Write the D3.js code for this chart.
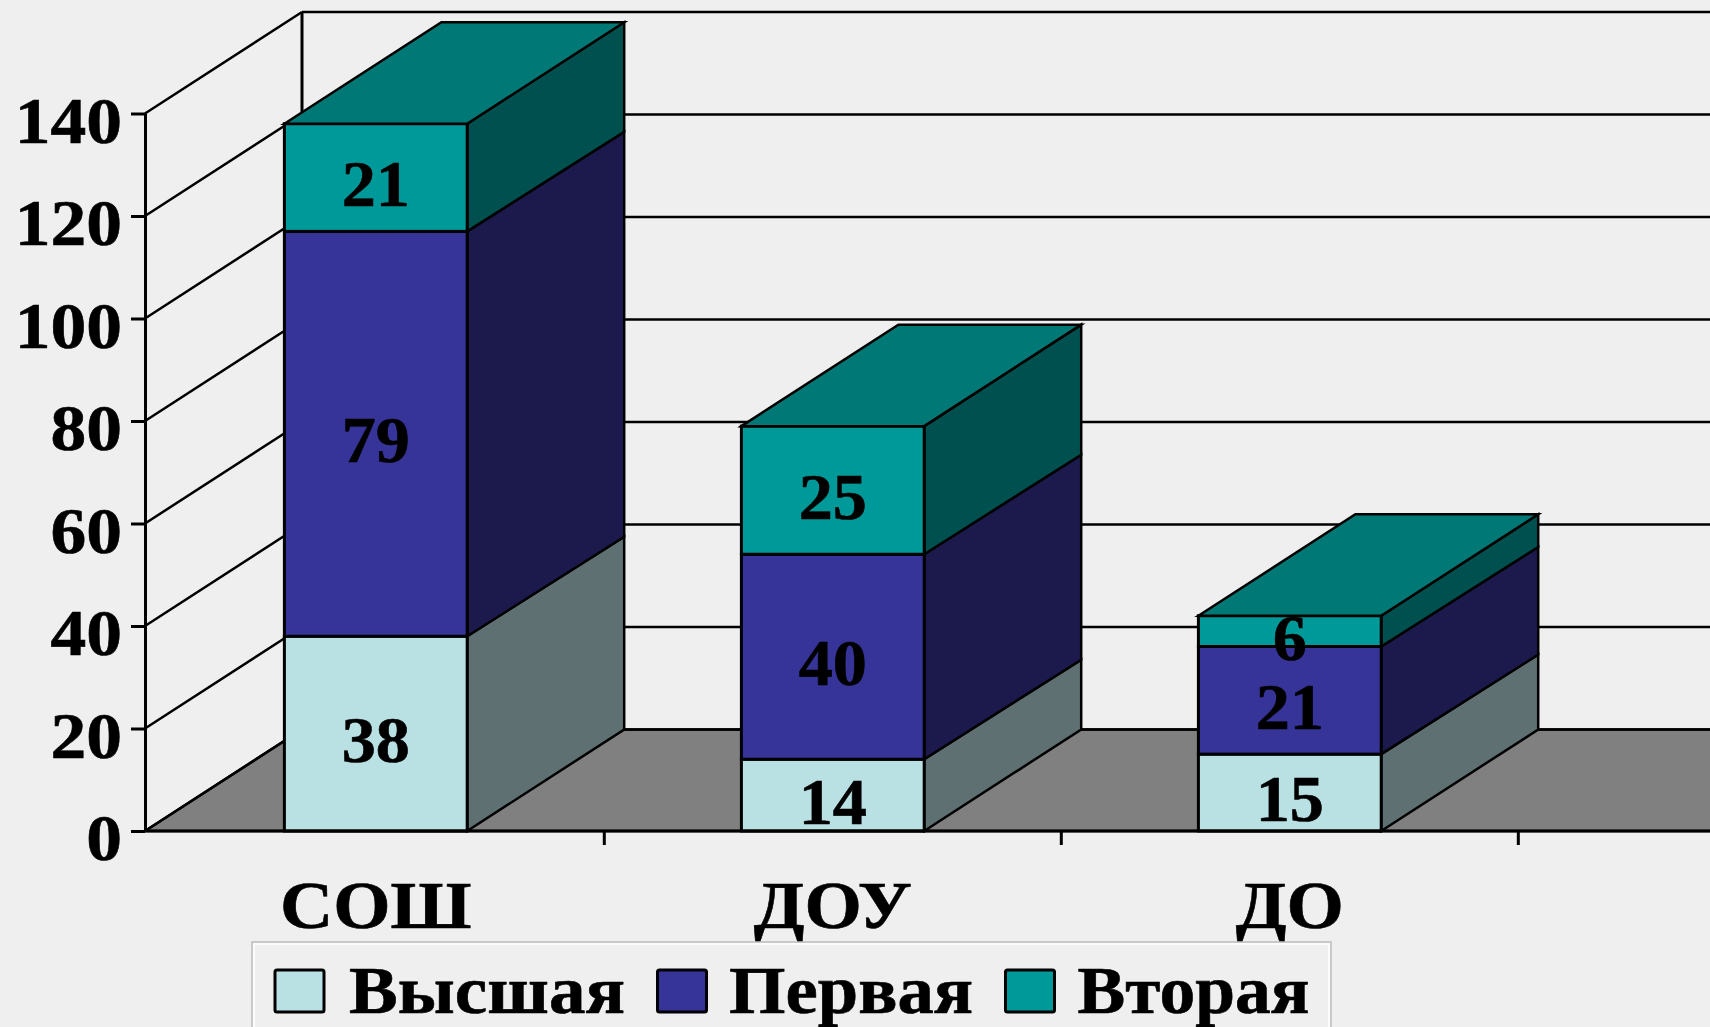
<!DOCTYPE html>
<html>
<head>
<meta charset="utf-8">
<script src="https://cdn.jsdelivr.net/npm/d3@7"></script>
<style>
  html, body { margin: 0; padding: 0; background: #efefef; overflow: hidden; }
  svg { display: block; filter: blur(0.5px); }
  text { font-family: "Liberation Serif", serif; font-weight: bold; fill: #000; stroke: #000; stroke-width: 0.6px; }
</style>
</head>
<body>
<svg width="1710" height="1027"></svg>
<script>
var categories = ["СОШ", "ДОУ", "ДО"];
var seriesNames = ["Высшая", "Первая", "Вторая"];
var vysshaya = [38, 14, 15];
var pervaya = [79, 40, 21];
var vtoraya = [21, 25, 6];
var yTicks = [0, 20, 40, 60, 80, 100, 120, 140];

var frontColors = ["#b9e0e3", "#363399", "#009999"];
var sideColors = ["#5f7072", "#1c1a4d", "#005050"];
var topColor = "#007875";

// offset of the back wall from the front plane
var depthX = 157, depthY = -101.5;
// the inner seams on the bar sides run a little flatter than the top edge
var seamY = -99.5;

var svg = d3.select("svg");

var x = d3.scaleBand()
  .domain(categories)
  .range([145, 1520.6])
  .paddingInner(0.6)
  .paddingOuter(0.305);

var y = d3.scaleLinear()
  .domain([0, 140])
  .range([831, 113.5]);

var axisLeftX = x.range()[0], rightEdge = 1710;

function poly(points) {
  return points.map(function(p) { return p.join(","); }).join(" ");
}

// floor
svg.append("polygon")
  .attr("points", poly([
    [axisLeftX, y(0)],
    [axisLeftX + depthX, y(0) + depthY],
    [rightEdge + 5, y(0) + depthY],
    [rightEdge + 5, y(0)]
  ]))
  .attr("fill", "#808080")
  .attr("stroke", "#000")
  .attr("stroke-width", 2.5);

// back wall lines
svg.selectAll("line.grid")
  .data(yTicks)
  .enter()
  .append("line")
  .attr("class", "grid")
  .attr("x1", axisLeftX + depthX)
  .attr("x2", rightEdge)
  .attr("y1", function(d) { return y(d) + depthY; })
  .attr("y2", function(d) { return y(d) + depthY; })
  .attr("stroke", "#000")
  .attr("stroke-width", 2.5);

// side wall lines
svg.selectAll("line.diag")
  .data(yTicks)
  .enter()
  .append("line")
  .attr("class", "diag")
  .attr("x1", axisLeftX)
  .attr("x2", axisLeftX + depthX)
  .attr("y1", function(d) { return y(d); })
  .attr("y2", function(d) { return y(d) + depthY; })
  .attr("stroke", "#000")
  .attr("stroke-width", 2.5);

svg.append("line")
  .attr("x1", axisLeftX + depthX)
  .attr("x2", axisLeftX + depthX)
  .attr("y1", y(140) + depthY)
  .attr("y2", y(0) + depthY)
  .attr("stroke", "#000")
  .attr("stroke-width", 3);

// stacked boxes
var stack = d3.stack().keys([0, 1, 2]).value(function(d, k) { return d[k]; });
var rows = categories.map(function(c, i) { return [vysshaya[i], pervaya[i], vtoraya[i]]; });
var layers = stack(rows);

var labels = [];
categories.forEach(function(cat, i) {
  var x0 = x(cat), x1 = x(cat) + x.bandwidth();
  var g = svg.append("g").attr("class", "box");
  layers.forEach(function(layer, k) {
    var v0 = layer[i][0], v1 = layer[i][1];
    var backLow = k == 0 ? depthY : seamY;
    var backHigh = k == 2 ? depthY : seamY;
    g.append("polygon")
      .attr("points", poly([
        [x1, y(v0)], [x1 + depthX, y(v0) + backLow],
        [x1 + depthX, y(v1) + backHigh], [x1, y(v1)]
      ]))
      .attr("fill", sideColors[k])
      .attr("stroke", "#000")
      .attr("stroke-width", 2.5);
    g.append("rect")
      .attr("x", x0)
      .attr("y", y(v1))
      .attr("width", x.bandwidth())
      .attr("height", y(v0) - y(v1))
      .attr("fill", frontColors[k])
      .attr("stroke", "#000")
      .attr("stroke-width", 3);
    labels.push({ cx: (x0 + x1) / 2, cy: y((v0 + v1) / 2), text: rows[i][k] });
  });
  var top = layers[2][i][1];
  g.append("polygon")
    .attr("points", poly([
      [x0, y(top)], [x0 + depthX, y(top) + depthY],
      [x1 + depthX, y(top) + depthY], [x1, y(top)]
    ]))
    .attr("fill", topColor)
    .attr("stroke", "#000")
    .attr("stroke-width", 2.5);
});

// value labels
svg.selectAll("text.val")
  .data(labels)
  .enter()
  .append("text")
  .attr("class", "val")
  .attr("text-anchor", "middle")
  .attr("font-size", 65)
  .attr("transform", function(d) {
    return "translate(" + d.cx + "," + (d.cy + 28.5) + ") scale(1.05,1)";
  })
  .text(function(d) { return d.text; });

// y axis
var yAxis = d3.axisLeft(y).tickValues(yTicks).tickSize(14).tickSizeOuter(0);
var yG = svg.append("g")
  .attr("transform", "translate(" + axisLeftX + ",0)")
  .call(yAxis);
yG.selectAll("path, line").attr("stroke", "#000").attr("stroke-width", 3);
yG.selectAll("text")
  .attr("x", 0)
  .attr("y", 0)
  .attr("dy", null)
  .attr("fill", "#000")
  .attr("font-family", null)
  .attr("font-size", 65)
  .attr("transform", "translate(-23,28.5) scale(1.1,1)");

// baseline and category ticks
svg.append("line")
  .attr("x1", axisLeftX)
  .attr("x2", rightEdge)
  .attr("y1", y(0))
  .attr("y2", y(0))
  .attr("stroke", "#000")
  .attr("stroke-width", 3);

svg.selectAll("line.cat")
  .data(categories)
  .enter()
  .append("line")
  .attr("class", "cat")
  .attr("x1", function(d) { return x(d) + x.bandwidth() + x.step() * 0.3; })
  .attr("x2", function(d) { return x(d) + x.bandwidth() + x.step() * 0.3; })
  .attr("y1", y(0))
  .attr("y2", y(0) + 14)
  .attr("stroke", "#000")
  .attr("stroke-width", 3);

svg.selectAll("text.cat")
  .data(categories)
  .enter()
  .append("text")
  .attr("class", "cat")
  .attr("text-anchor", "middle")
  .attr("font-size", 67)
  .attr("transform", function(d) {
    return "translate(" + (x(d) + x.bandwidth() / 2) + ",928) scale(1.1,1)";
  })
  .text(function(d) { return d; });

// legend
svg.append("rect")
  .attr("x", 252)
  .attr("y", 942)
  .attr("width", 1079)
  .attr("height", 120)
  .attr("fill", "#efefef")
  .attr("stroke", "#bdbdbd")
  .attr("stroke-width", 1.5);
svg.append("rect")
  .attr("x", 254)
  .attr("y", 944)
  .attr("width", 1075)
  .attr("height", 120)
  .attr("fill", "none")
  .attr("stroke", "#fff")
  .attr("stroke-width", 1.5);

var legendX = [275, 657.5, 1005.5];
var legendTextX = [349, 729, 1077.5];
var legendTextW = [276, 244, 232];

var legend = svg.selectAll("g.leg")
  .data(seriesNames)
  .enter()
  .append("g")
  .attr("class", "leg");

legend.append("rect")
  .attr("x", function(d, i) { return legendX[i]; })
  .attr("y", 970)
  .attr("width", 49)
  .attr("height", 42)
  .attr("rx", 2)
  .attr("fill", function(d, i) { return frontColors[i]; })
  .attr("stroke", "#000")
  .attr("stroke-width", 3);

legend.append("text")
  .attr("x", function(d, i) { return legendTextX[i]; })
  .attr("y", 1013)
  .attr("font-size", 68)
  .attr("textLength", function(d, i) { return legendTextW[i]; })
  .attr("lengthAdjust", "spacingAndGlyphs")
  .text(function(d) { return d; });
</script>
</body>
</html>
